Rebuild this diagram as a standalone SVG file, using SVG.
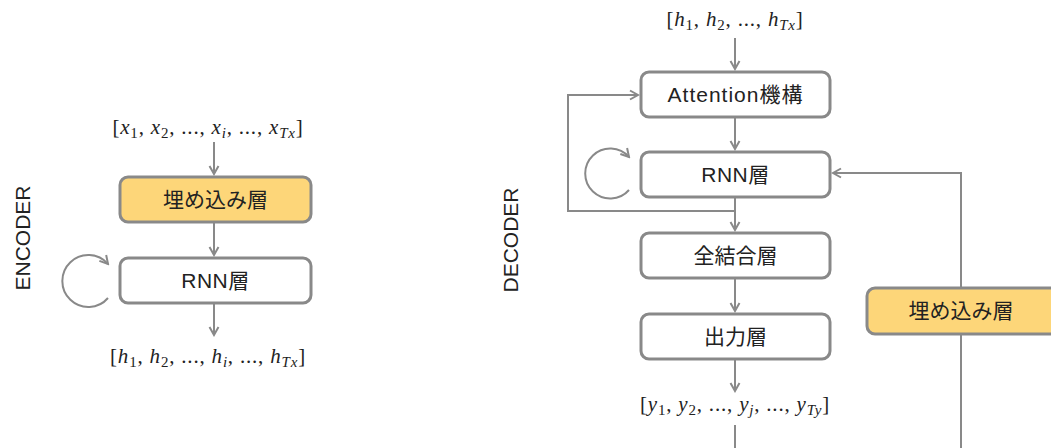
<svg xmlns="http://www.w3.org/2000/svg" width="1051" height="448" viewBox="0 0 1051 448">
<style>
.box{stroke:#898989;stroke-width:3;}
.w{fill:#ffffff;}
.y{fill:#fdd679;}
.ln{fill:none;stroke:#898989;stroke-width:2;}
.lbl{font-family:"Liberation Sans","Noto Sans CJK JP",sans-serif;font-size:21px;fill:#222;text-anchor:middle;}
.side{font-family:"Liberation Sans",sans-serif;font-size:21px;fill:#222;text-anchor:middle;}
.m{font-family:"Liberation Serif",serif;font-size:21px;fill:#222;text-anchor:middle;letter-spacing:0.8px;}
.i{font-style:italic;}
.s{font-size:15px;}
</style>
<defs>
<marker id="ah" markerUnits="userSpaceOnUse" markerWidth="12" markerHeight="12" refX="10" refY="6" orient="auto">
<path d="M2,1.5 L10,6 L2,10.5" fill="none" stroke="#898989" stroke-width="2"/>
</marker>
</defs>

<g id="connectors">
<!-- encoder -->
<line class="ln" x1="214" y1="142" x2="214" y2="174" marker-end="url(#ah)"/>
<line class="ln" x1="214" y1="223" x2="214" y2="255" marker-end="url(#ah)"/>
<line class="ln" x1="214" y1="304" x2="214" y2="335" marker-end="url(#ah)"/>
<path class="ln" d="M108,298 A26,26 0 1 1 108,264" marker-end="url(#ah)"/>
<!-- decoder -->
<line class="ln" x1="735" y1="38" x2="735" y2="69" marker-end="url(#ah)"/>
<line class="ln" x1="735" y1="118" x2="735" y2="149" marker-end="url(#ah)"/>
<line class="ln" x1="735" y1="198" x2="735" y2="230" marker-end="url(#ah)"/>
<line class="ln" x1="735" y1="279" x2="735" y2="311" marker-end="url(#ah)"/>
<line class="ln" x1="735" y1="360" x2="735" y2="391" marker-end="url(#ah)"/>
<line class="ln" x1="735" y1="425" x2="735" y2="448"/>
<path class="ln" d="M735,211 H568 V95 H638" marker-end="url(#ah)"/>
<path class="ln" d="M629,190 A25,25 0 1 1 629,157" marker-end="url(#ah)"/>
<path class="ln" d="M961,448 V173 H833" marker-end="url(#ah)"/>
</g>

<g id="encoder-label"><text class="side" transform="translate(30,238) rotate(-90)">ENCODER</text></g>
<g id="decoder-label"><text class="side" transform="translate(518,240) rotate(-90)">DECODER</text></g>

<g id="enc-input">
<text class="m" x="208" y="134">[<tspan class="i">x</tspan><tspan class="s" dy="4">1</tspan><tspan dy="-4">, </tspan><tspan class="i">x</tspan><tspan class="s" dy="4">2</tspan><tspan dy="-4">, ..., </tspan><tspan class="i">x</tspan><tspan class="s i" dy="4">i</tspan><tspan dy="-4">, ..., </tspan><tspan class="i">x</tspan><tspan class="s i" dy="4">Tx</tspan><tspan dy="-4">]</tspan></text>
</g>
<g id="enc-embed">
<rect class="box y" x="120" y="177" width="191" height="45" rx="8"/>
<text class="lbl" x="215.5" y="207">埋め込み層</text>
</g>
<g id="enc-rnn">
<rect class="box w" x="120" y="258" width="191" height="45" rx="8"/>
<text class="lbl" x="215.5" y="288" letter-spacing="0.5">RNN層</text>
</g>
<g id="enc-output">
<text class="m" x="208" y="363">[<tspan class="i">h</tspan><tspan class="s" dy="4">1</tspan><tspan dy="-4">, </tspan><tspan class="i">h</tspan><tspan class="s" dy="4">2</tspan><tspan dy="-4">, ..., </tspan><tspan class="i">h</tspan><tspan class="s i" dy="4">i</tspan><tspan dy="-4">, ..., </tspan><tspan class="i">h</tspan><tspan class="s i" dy="4">Tx</tspan><tspan dy="-4">]</tspan></text>
</g>

<g id="dec-input">
<text class="m" x="735" y="26">[<tspan class="i">h</tspan><tspan class="s" dy="4">1</tspan><tspan dy="-4">, </tspan><tspan class="i">h</tspan><tspan class="s" dy="4">2</tspan><tspan dy="-4">, ..., </tspan><tspan class="i">h</tspan><tspan class="s i" dy="4">Tx</tspan><tspan dy="-4">]</tspan></text>
</g>
<g id="dec-attention">
<rect class="box w" x="641" y="72" width="189" height="45" rx="8"/>
<text class="lbl" x="735.5" y="102" letter-spacing="1">Attention機構</text>
</g>
<g id="dec-rnn">
<rect class="box w" x="641" y="152" width="189" height="45" rx="8"/>
<text class="lbl" x="735.5" y="182" letter-spacing="0.5">RNN層</text>
</g>
<g id="dec-fc">
<rect class="box w" x="641" y="233" width="189" height="45" rx="8"/>
<text class="lbl" x="735.5" y="263">全結合層</text>
</g>
<g id="dec-out">
<rect class="box w" x="641" y="314" width="189" height="45" rx="8"/>
<text class="lbl" x="735.5" y="344">出力層</text>
</g>
<g id="dec-output">
<text class="m" x="735" y="411" letter-spacing="1.3">[<tspan class="i">y</tspan><tspan class="s" dy="4">1</tspan><tspan dy="-4">, </tspan><tspan class="i">y</tspan><tspan class="s" dy="4">2</tspan><tspan dy="-4">, ..., </tspan><tspan class="i">y</tspan><tspan class="s i" dy="4">j</tspan><tspan dy="-4">, ..., </tspan><tspan class="i">y</tspan><tspan class="s i" dy="4">Ty</tspan><tspan dy="-4">]</tspan></text>
</g>
<g id="dec-embed">
<rect class="box y" x="867" y="288" width="200" height="46" rx="8"/>
<text class="lbl" x="961" y="318">埋め込み層</text>
</g>
</svg>
